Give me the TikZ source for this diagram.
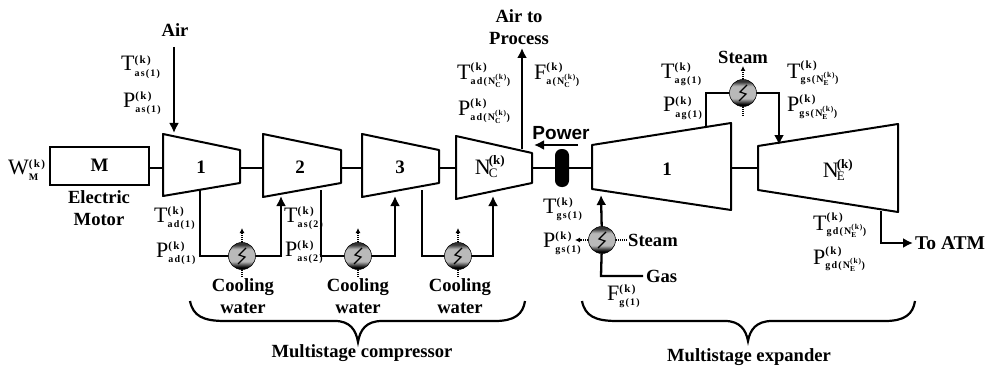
\documentclass[tikz,border=0pt]{standalone}
\usepackage{fontspec}
\setmainfont{Liberation Serif}
\setsansfont{Liberation Sans}
\usetikzlibrary{arrows.meta, positioning}
\definecolor{hxgray}{RGB}{185, 185, 185}
\pgfdeclareverticalshading{hxshade}{100bp}{color(0bp)=(black); color(29bp)=(black); color(40bp)=(hxgray); color(63bp)=(hxgray); color(71bp)=(black!80); color(100bp)=(black!80)}
\newcommand{\subsz}[1]{\hbox{\fontsize{10}{10}\selectfont\bfseries\addfontfeature{LetterSpace=12}#1}}
\newcommand{\supk}{\hbox{\fontsize{11}{11}\selectfont\bfseries\addfontfeature{LetterSpace=12}(k)}}
\newcommand{\stagevar}[2]{#1$^{\supk}_{\subsz{#2}}$}
\newcommand{\nstage}[1]{N$^{\hbox{\fontsize{7.5}{7.5}\selectfont\bfseries(k)}}_{\hbox{\fontsize{7.5}{7.5}\selectfont\bfseries #1}}$}
\newcommand{\nbig}[1]{N$^{\hspace{-2pt}\hbox{\fontsize{13}{13}\selectfont\bfseries(k)}}_{\hspace{-2pt}\hbox{\fontsize{13}{13}\selectfont #1}}$}
\tikzset{
    stage/.style={line width=2pt, line join=round},
    shaft/.style={line width=2.5pt},
    flow/.style={line width=2.3pt, line join=miter},
    flowarrow/.style={flow, -{Latex[length=10pt,width=10pt]}},
    coolant/.style={line width=1.1pt, densely dotted, -{Latex[length=5pt,width=5pt]}},
    coolin/.style={line width=1.1pt, densely dotted},
    hxnode/.style={circle, draw=black, line width=0.6pt, minimum size=27pt, inner sep=0pt,
        shading=hxshade,
        path picture={\draw[black, line width=1.2pt] ([xshift=4pt,yshift=8pt]path picture bounding box.center) -- ([xshift=-3pt,yshift=1pt]path picture bounding box.center) -- ([xshift=3pt,yshift=-1pt]path picture bounding box.center) -- ([xshift=-4pt,yshift=-8pt]path picture bounding box.center);}},
    varlabel/.style={anchor=base west, inner sep=0pt, font=\fontsize{22}{22}\selectfont},
    blabel/.style={font=\fontsize{18.6}{20}\selectfont\bfseries, inner sep=0pt},
    slabel/.style={font=\fontsize{19}{19}\selectfont\bfseries, inner sep=0pt}
}
\begin{document}
\begin{tikzpicture}[x=1pt, y=-1pt]
    \useasboundingbox (0,0) rectangle (989,369);
    % stages
    \draw[stage] (163,134) -- (240,150) -- (240,183) -- (163,196) -- cycle;
    \draw[stage] (263,134) -- (341,150) -- (341,183) -- (263,197) -- cycle;
    \draw[stage] (362,134) -- (439,150) -- (439,183) -- (362,197) -- cycle;
    \draw[stage] (456,136) -- (532,153) -- (532,183) -- (456,199) -- cycle;
    \draw[stage] (592,145) -- (731,123) -- (731,210) -- (592,189) -- cycle;
    \draw[stage] (758,146) -- (898,124) -- (898,212) -- (758,190) -- cycle;
    \node[draw, line width=2pt, minimum width=99pt, minimum height=38pt, inner sep=0pt, slabel] (motor) at (99.5,165.5) {M};
    \node[slabel] (cone) at (201,167) {1};
    \node[slabel] (ctwo) at (300,167) {2};
    \node[slabel] (cthree) at (400,167) {3};
    \node[font=\fontsize{22}{22}\selectfont, inner sep=0pt] (cfour) at (490,167) {\nbig{C}};
    \node[slabel] (eone) at (667,169) {1};
    \node[font=\fontsize{22}{22}\selectfont, inner sep=0pt] (etwo) at (838,170) {\nbig{E}};
    % shaft ends
    \coordinate (cae) at (240,168); \coordinate (cbw) at (263,168);
    \coordinate (cbe) at (341,168); \coordinate (ccw) at (362,168);
    \coordinate (cce) at (439,168); \coordinate (cdw) at (456,168);
    \coordinate (cde) at (532,168); \coordinate (eaw) at (592,168);
    \coordinate (eae) at (731,168); \coordinate (ebw) at (758,168);
    \coordinate (caw) at (163,168);
    \draw[shaft] (motor.east |- caw) -- (caw);
    \draw[shaft] (cae) -- (cbw);
    \draw[shaft] (cbe) -- (ccw);
    \draw[shaft] (cce) -- (cdw);
    \draw[shaft] (cde) -- (eaw);
    \draw[shaft] (eae) -- (ebw);
    \node[fill=black, rounded corners=6.5pt, minimum width=14pt, minimum height=38pt, inner sep=0pt] (clutch) at (562,168) {};
    % flow ends
    \coordinate (airin) at (174,47); \coordinate (airstage) at (174,133);
    \coordinate (aout) at (200,189); \coordinate (bin) at (281,196);
    \coordinate (bout) at (321,190); \coordinate (cin) at (395,196);
    \coordinate (cout) at (422,190); \coordinate (din) at (493,196);
    \coordinate (dout) at (522,149); \coordinate (process) at (522,48);
    \coordinate (pwra) at (578,145); \coordinate (pwrb) at (534,145);
    \coordinate (einone) at (601,195); \coordinate (gascorner) at (601,276);
    \coordinate (gasend) at (643,276);
    \coordinate (eoutone) at (706,127); \coordinate (eintwo) at (779,145);
    \coordinate (eouttwo) at (881,211); \coordinate (atm) at (913,243);
    % heat exchangers
    \node[hxnode] (hxa) at (242,256) {};
    \node[hxnode] (hxb) at (358,256) {};
    \node[hxnode] (hxc) at (458,256) {};
    \node[hxnode] (hxd) at (602,240) {};
    \node[hxnode] (hxe) at (743,93) {};
    % process lines
    \draw[flowarrow] (airin) -- (airstage);
    \draw[flow] (aout) |- (hxa);
    \draw[flowarrow] (hxa) -| (bin);
    \draw[flow] (bout) |- (hxb);
    \draw[flowarrow] (hxb) -| (cin);
    \draw[flow] (cout) |- (hxc);
    \draw[flowarrow] (hxc) -| (din);
    \draw[flowarrow] (dout) -- (process);
    \draw[flowarrow] (pwra) -- (pwrb);
    \draw[flowarrow] (hxd) -- (einone);
    \draw[flow] (gasend) -- (gascorner) -- (hxd);
    \draw[flow] (eoutone) |- (hxe);
    \draw[flowarrow] (hxe) -| (eintwo);
    \draw[flowarrow] (eouttwo) |- (atm);
    % utility lines
    \foreach \hx/\low/\high in {hxa/277/228, hxb/277/228, hxc/277/228, hxe/116/66} {
        \path (\hx) ++(0,0) coordinate (here);
        \coordinate (\hx low) at (here |- 0,\low);
        \coordinate (\hx high) at (here |- 0,\high);
        \draw[coolin] (\hx low) -- (\hx);
        \draw[coolant] (\hx) -- (\hx high);
    }
    \coordinate (steamin) at (627,240); \coordinate (steamout) at (575,240);
    \draw[coolin] (steamin) -- (hxd);
    \draw[coolant] (hxd) -- (steamout);
    % text
    \node[blabel] (airtxt) at (175,30) {Air};
    \node[blabel, align=center] (proctxt) at (519,27) {Air to\\[2pt]Process};
    \node[font=\fontsize{19}{19}\selectfont\sffamily\bfseries, inner sep=0pt] (powertxt) at (561,133) {Power};
    \node[blabel, align=center] (motortxt) at (99,208) {Electric\\[2pt]Motor};
    \node[blabel, align=center] (cwa) at (243,296) {Cooling\\[2pt]water};
    \node[blabel, align=center] (cwb) at (358,296) {Cooling\\[2pt]water};
    \node[blabel, align=center] (cwc) at (460,296) {Cooling\\[2pt]water};
    \node[blabel] (steamtop) at (743,57) {Steam};
    \node[blabel, anchor=west] (steamlow) at (628,240) {Steam};
    \node[blabel, anchor=west] (gastxt) at (646,276) {Gas};
    \node[blabel, anchor=west, font=\fontsize{19.5}{20}\selectfont\bfseries] (atmtxt) at (915,243) {To ATM};
    \node[blabel] (mcomp) at (362,353) {Multistage compressor};
    \node[blabel] (mexp) at (749,357) {Multistage expander};
    % stage variables
    \node[varlabel] (wm) at (8,175) {\stagevar{W}{M}};
    \node[varlabel] (tasa) at (121,71) {\stagevar{T}{as(1)}};
    \node[varlabel] (pasa) at (123,107) {\stagevar{P}{as(1)}};
    \node[varlabel] (tada) at (154,222) {\stagevar{T}{ad(1)}};
    \node[varlabel] (pada) at (156,257) {\stagevar{P}{ad(1)}};
    \node[varlabel] (tasb) at (284,222) {\stagevar{T}{as(2)}};
    \node[varlabel] (pasb) at (285,256) {\stagevar{P}{as(2)}};
    \node[varlabel] (tadn) at (457,80) {\stagevar{T}{ad(\nstage{C})}};
    \node[varlabel] (padn) at (458,116) {\stagevar{P}{ad(\nstage{C})}};
    \node[varlabel] (fan) at (534,80) {\stagevar{F}{a(\nstage{C})}};
    \node[varlabel] (tgsa) at (543,213) {\stagevar{T}{gs(1)}};
    \node[varlabel] (pgsa) at (543,247) {\stagevar{P}{gs(1)}};
    \node[varlabel] (fga) at (607,300) {\stagevar{F}{g(1)}};
    \node[varlabel] (taga) at (661,78) {\stagevar{T}{ag(1)}};
    \node[varlabel] (paga) at (663,112) {\stagevar{P}{ag(1)}};
    \node[varlabel] (tgsn) at (787,78) {\stagevar{T}{gs(\nstage{E})}};
    \node[varlabel] (pgsn) at (787,112) {\stagevar{P}{gs(\nstage{E})}};
    \node[varlabel] (tgdn) at (813,230) {\stagevar{T}{gd(\nstage{E})}};
    \node[varlabel] (pgdn) at (813,264) {\stagevar{P}{gd(\nstage{E})}};
    % braces
    \draw[line width=2.2pt] (190,301) .. controls (193,316) and (203,321) .. (225,321) -- (335,321) .. controls (350,321) and (356,330) .. (358,342) .. controls (360,330) and (366,321) .. (382,321) -- (495,321) .. controls (515,321) and (523,314) .. (525,301);
    \draw[line width=2.2pt] (582,301) .. controls (585,316) and (595,321) .. (617,321) -- (725,321) .. controls (740,321) and (746,330) .. (748,341) .. controls (750,330) and (756,321) .. (772,321) -- (885,321) .. controls (905,321) and (913,314) .. (915,301);
\end{tikzpicture}
\end{document}
